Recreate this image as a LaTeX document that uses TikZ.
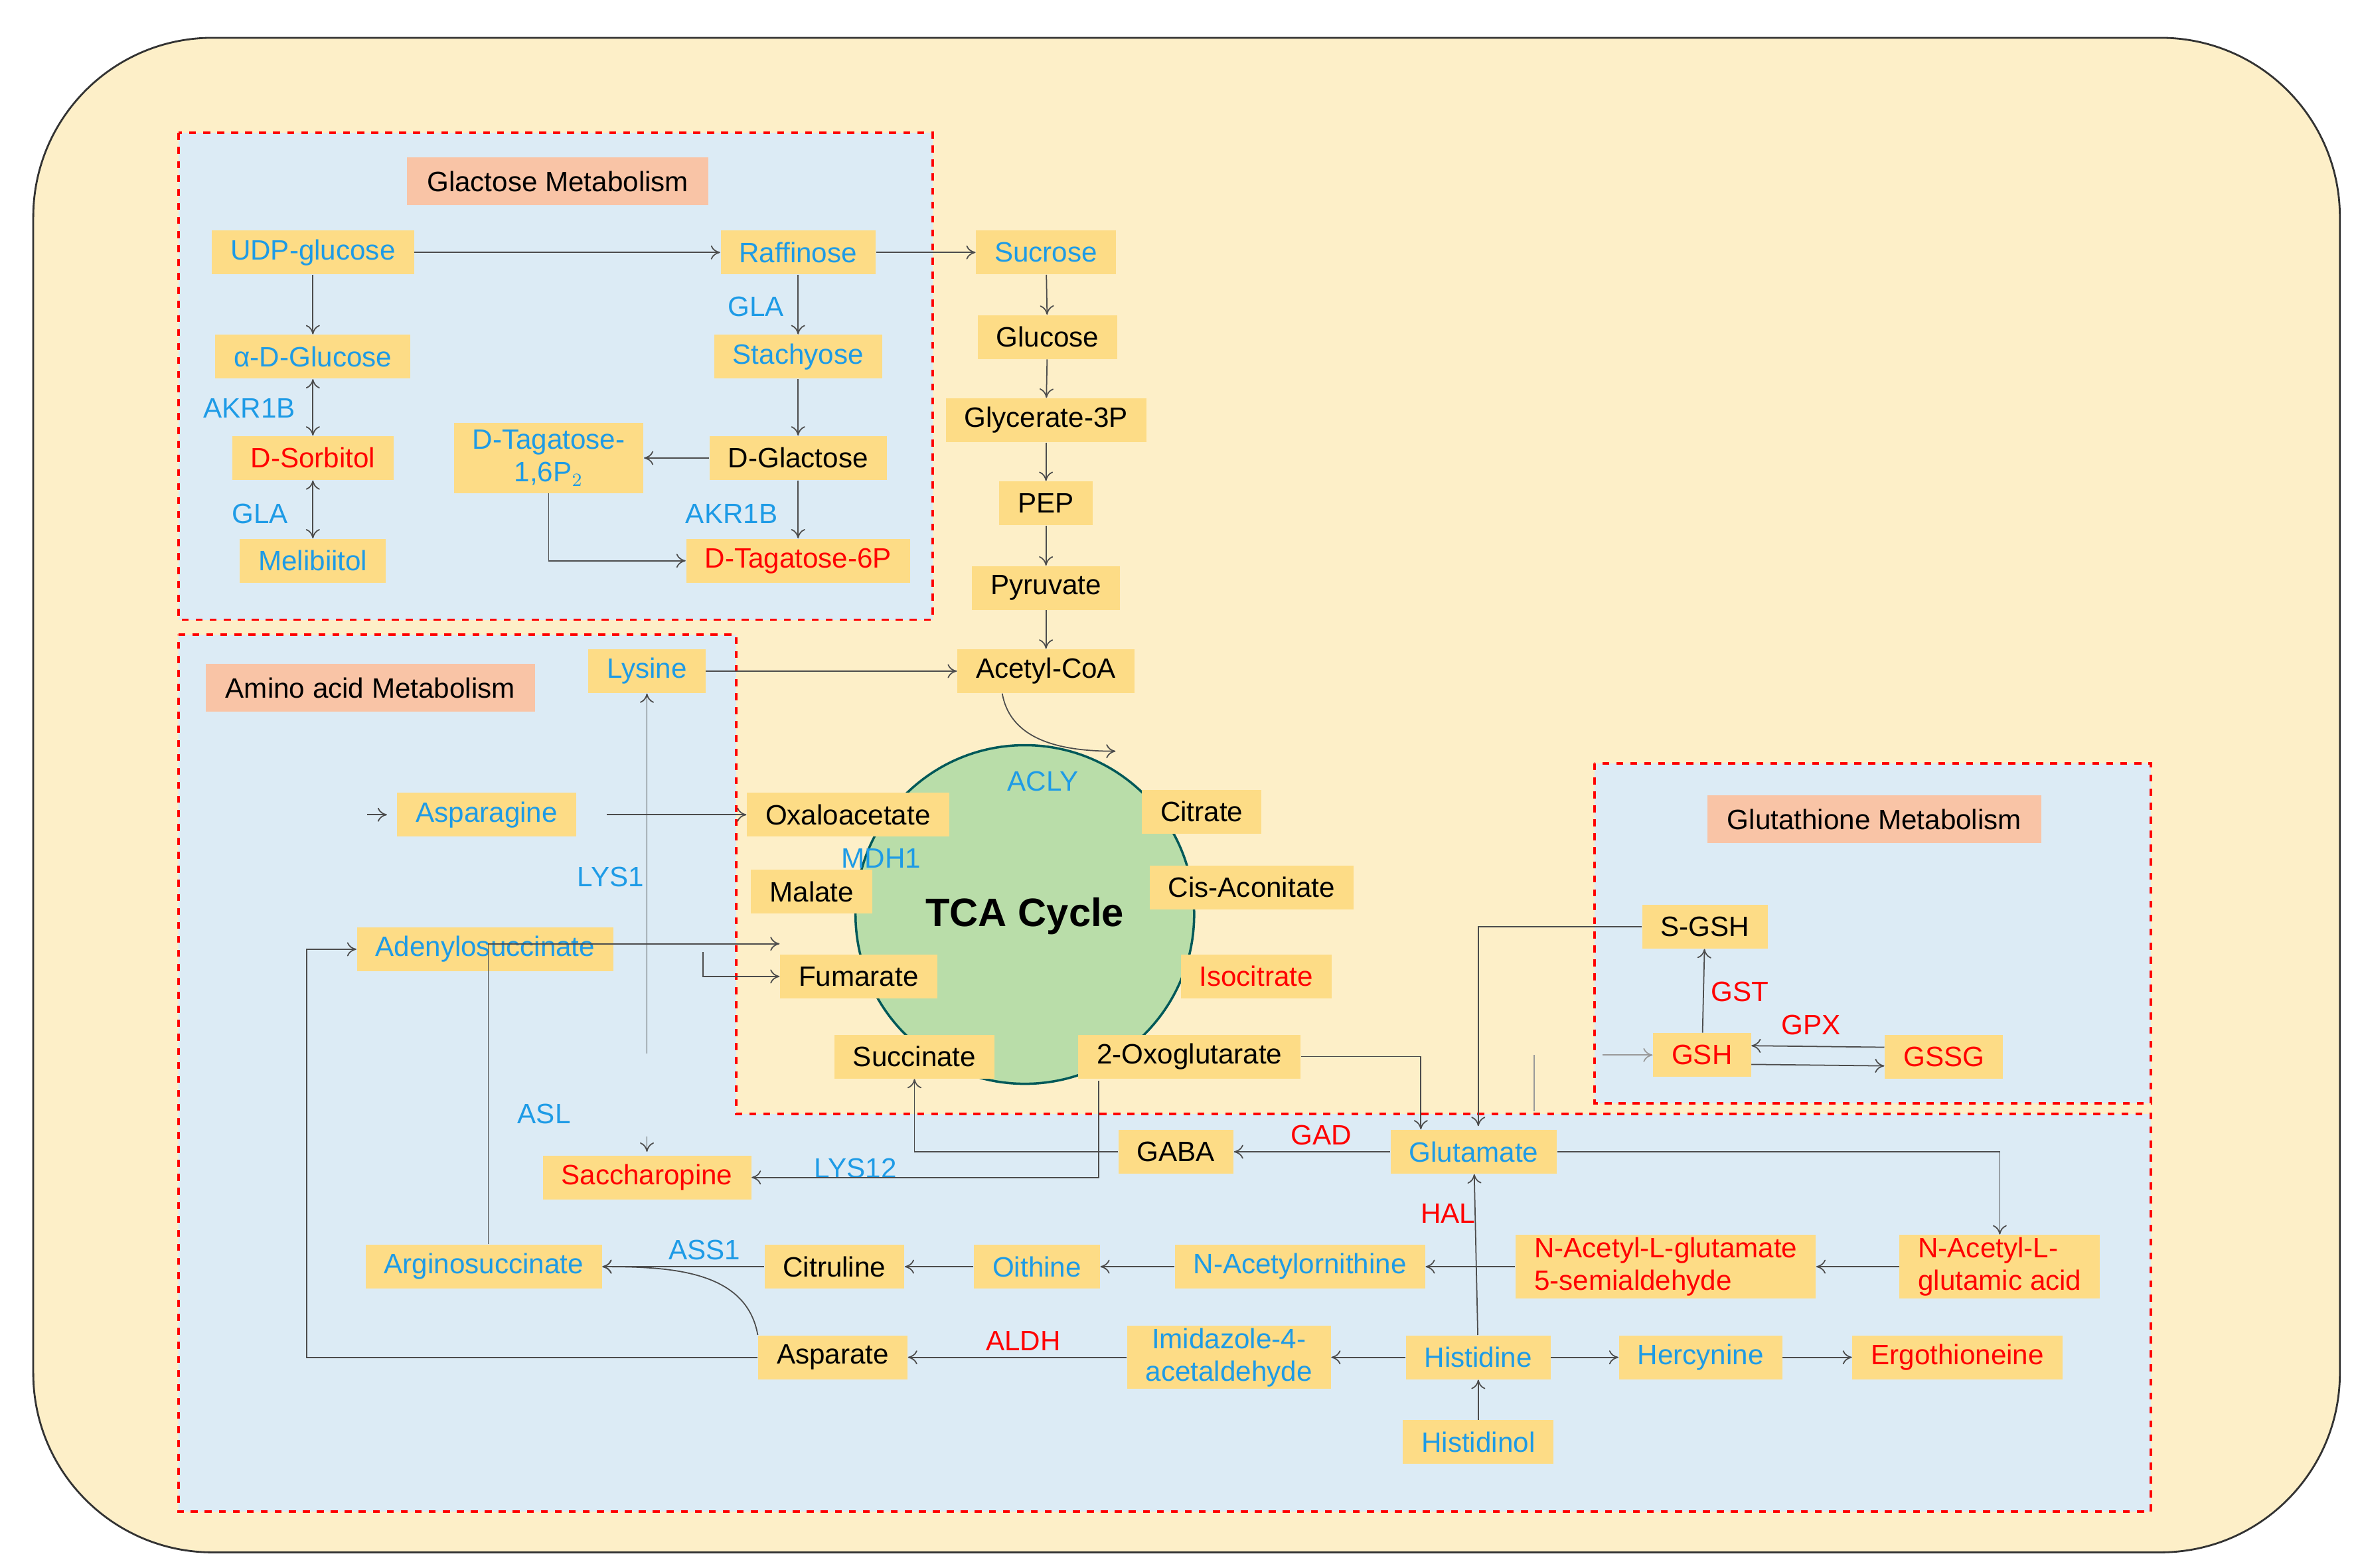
\documentclass[tikz,border=0pt]{standalone}
\usepackage{fontspec}
\setmainfont{Liberation Sans}
\usetikzlibrary{arrows.meta}
\definecolor{bgy}{HTML}{FDEFC8}
\definecolor{boxy}{HTML}{FDDC86}
\definecolor{lb}{HTML}{DCEBF5}
\definecolor{bt}{HTML}{1E9BE6}
\definecolor{sal}{HTML}{F9C4A6}
\definecolor{tca}{HTML}{B9DDA9}
\begin{document}
\begin{tikzpicture}[x=0.02277cm,y=-0.02277cm,
 font=\fontsize{12}{14}\selectfont,
 b/.style={fill=boxy,minimum height=0.66cm,inner xsep=0.28cm,inner ysep=1pt,align=center},
 bl/.style={b,text=bt}, rd/.style={b,text=red}, bk/.style={b,text=black},
 ttl/.style={fill=sal,minimum height=0.72cm,inner xsep=0.3cm},
 eb/.style={text=bt}, er/.style={text=red},
 ar/.style={draw=black!70,line width=0.5pt,-{To[length=4pt,width=6pt]}},
 ln/.style={draw=black!70,line width=0.5pt},
 reg/.style={draw=red,dashed,line width=1.1pt,fill=lb}]
\useasboundingbox (0,0) rectangle (1560,1037);
\draw[fill=bgy,draw=black!80,line width=0.8pt,rounded corners=2.7cm] (22,25) rectangle (1548,1027);
\draw[reg] (118,88) rectangle (617,410);
\draw[reg] (118,420) -- (487,420) -- (487,737) -- (1423,737) -- (1423,1000) -- (118,1000) -- cycle;
\draw[reg] (1055,505) rectangle (1423,730);
\draw[fill=tca,draw=teal!70!black,line width=1pt] (678,605) circle[radius=2.55cm];
% titles
\node[ttl] (t1) at (369,120) {Glactose Metabolism};
\node[ttl] (t2) at (245,455) {Amino acid Metabolism};
\node[ttl] (t3) at (1240,542) {Glutathione Metabolism};
% nodes
\node[bl] (udp) at (207,167) {UDP-glucose};
\node[bl] (raf) at (528,167) {Raffinose};
\node[bl] (suc) at (692,167) {Sucrose};
\node[bl] (adg) at (207,236) {α-D-Glucose};
\node[bl] (sta) at (528,236) {Stachyose};
\node[bk] (glu) at (693,223) {Glucose};
\node[bk] (g3p) at (692,278) {Glycerate-3P};
\node[rd] (sor) at (207,303) {D-Sorbitol};
\node[bl,inner ysep=3pt] (tag) at (363,303) {D-Tagatose-\\1,6P$_2$};
\node[bk] (dgl) at (528,303) {D-Glactose};
\node[bk] (pep) at (692,333) {PEP};
\node[bl] (mel) at (207,371) {Melibiitol};
\node[rd] (t6p) at (528,371) {D-Tagatose-6P};
\node[bk] (pyr) at (692,389) {Pyruvate};
\node[bl] (lys) at (428,444) {Lysine};
\node[bk] (aco) at (692,444) {Acetyl-CoA};
\node[bl] (asn) at (322,539) {Asparagine};
\node[bk] (oxa) at (561,539) {Oxaloacetate};
\node[bk] (cit) at (795,537) {Citrate};
\node[bk] (mal) at (537,590) {Malate};
\node[bk] (cis) at (828,587) {Cis-Aconitate};
\node[bk] (sgsh) at (1128,613) {S-GSH};
\node[bl] (ade) at (321,628) {Adenylosuccinate};
\node[bk] (fum) at (568,646) {Fumarate};
\node[rd] (iso) at (831,646) {Isocitrate};
\node[rd] (gsh) at (1126,698) {GSH};
\node[rd] (gssg) at (1286,699) {GSSG};
\node[bk] (succ) at (605,699) {Succinate};
\node[bk] (oxg) at (787,699) {2-Oxoglutarate};
\node[bk] (gaba) at (778,762) {GABA};
\node[bl] (glt) at (975,762) {Glutamate};
\node[rd] (sac) at (428,779) {Saccharopine};
\node[bl] (args) at (320,838) {Arginosuccinate};
\node[bk] (citr) at (552,838) {Citruline};
\node[bl] (oit) at (686,838) {Oithine};
\node[bl] (nao) at (860,838) {N-Acetylornithine};
\node[rd,align=left] (nsa) at (1102,838) {N-Acetyl-L-glutamate\\5-semialdehyde};
\node[rd,align=left] (nga) at (1323,838) {N-Acetyl-L-\\glutamic acid};
\node[bk] (asp) at (551,898) {Asparate};
\node[bl] (imi) at (813,898) {Imidazole-4-\\acetaldehyde};
\node[bl] (his) at (978,898) {Histidine};
\node[bl] (her) at (1125,898) {Hercynine};
\node[rd] (erg) at (1295,898) {Ergothioneine};
\node[bl] (hol) at (978,954) {Histidinol};
% labels
\node[eb] (e1) at (500,203) {GLA};
\node[eb] (e2) at (165,270) {AKR1B};
\node[eb] (e3) at (172,340) {GLA};
\node[eb] (e4) at (484,340) {AKR1B};
\node[eb] (e5) at (404,580) {LYS1};
\node[eb] (e6) at (690,517) {ACLY};
\node[eb] (e7) at (583,568) {MDH1};
\node[font=\fontsize{17}{19}\selectfont\bfseries] (tcal) at (678,606) {TCA Cycle};
\node[er] (e8) at (1151,656) {GST};
\node[er] (e9) at (1198,678) {GPX};
\node[eb] (e10) at (360,737) {ASL};
\node[er] (e11) at (874,751) {GAD};
\node[eb] (e12) at (566,773) {LYS12};
\node[er] (e13) at (958,803) {HAL};
\node[eb] (e14) at (466,827) {ASS1};
\node[er] (e15) at (677,887) {ALDH};
% coordinates
\coordinate (c1) at (738,497);
\coordinate (k1) at (243,539); \coordinate (k2) at (256,539);
\coordinate (k3) at (215,628);
\coordinate (k4) at (428,752); \coordinate (k5) at (428,762);
\coordinate (lys1s) at (428,697);
\coordinate (fs) at (465,630);
\coordinate (gs) at (1015,735);
% galactose arrows
\draw[ar] (udp) -- (raf);
\draw[ar] (raf) -- (suc);
\draw[ar] (udp) -- (adg);
\draw[ar,{To[length=4pt,width=6pt]}-{To[length=4pt,width=6pt]}] (adg) -- (sor);
\draw[ar,{To[length=4pt,width=6pt]}-{To[length=4pt,width=6pt]}] (sor) -- (mel);
\draw[ar] (raf) -- (sta);
\draw[ar] (sta) -- (dgl);
\draw[ar] (dgl) -- (tag);
\draw[ar] (dgl) -- (t6p);
\draw[ar] (tag.south) |- (t6p.west);
% glycolysis
\draw[ar] (suc) -- (glu);
\draw[ar] (glu) -- (g3p);
\draw[ar] (g3p) -- (pep);
\draw[ar] (pep) -- (pyr);
\draw[ar] (pyr) -- (aco);
\draw[ar] (lys) -- (aco);
\draw[ar] (aco.south west) ++(30,0) to[out=-80,in=180] (c1);
% amino
\draw[ar] (k1) -- (k2);
\draw[ar] (asn.east) ++(20,0) -- (oxa.west);
\draw[ar] (asp.west) -| (203,650) |- (ade.west);
\draw[ar] (lys1s) -- (lys);
\draw[ar] (fs) |- ([yshift=-0pt]fum.west);
\draw[ar] (args.north) ++(3,0) |- ([yshift=14]fum.west);
\draw[ar] (k4) -- (k5);
\draw[ar] (oxg.east) -| (glt.north -| 940,0);
\draw[ar] (sgsh.west) -| (978,745);
\draw[ar] (gsh) -- (sgsh);
\draw[ar] ([yshift=-4]gsh.east) -- ([yshift=-4]gssg.west);
\draw[ar] ([yshift=4]gssg.west) -- ([yshift=4]gsh.east);
\draw[ln,draw=black!40] (gs) -- (1015,698);
\draw[ar,draw=black!40] (1060,698) -- (gsh.west);
\draw[ar] (glt) -- (gaba);
\draw[ar] (gaba.west) -| (succ.south);
\draw[ar] (727,715) |- (sac.east);
\draw[ar] (glt.east) -| (nga.north);
\draw[ar] (nga) -- (nsa);
\draw[ar] (nsa) -- (nao);
\draw[ar] (nao) -- (oit);
\draw[ar] (oit) -- (citr);
\draw[ar] (citr) -- (args);
\draw[ar] (asp.north west) to[out=100,in=0] (args.east);
\draw[ar] (his) -- (glt);
\draw[ar] (hol) -- (his);
\draw[ar] (his) -- (imi);
\draw[ar] (his) -- (her);
\draw[ar] (her) -- (erg);
\draw[ar] (imi) -- (asp);
\end{tikzpicture}
\end{document}
